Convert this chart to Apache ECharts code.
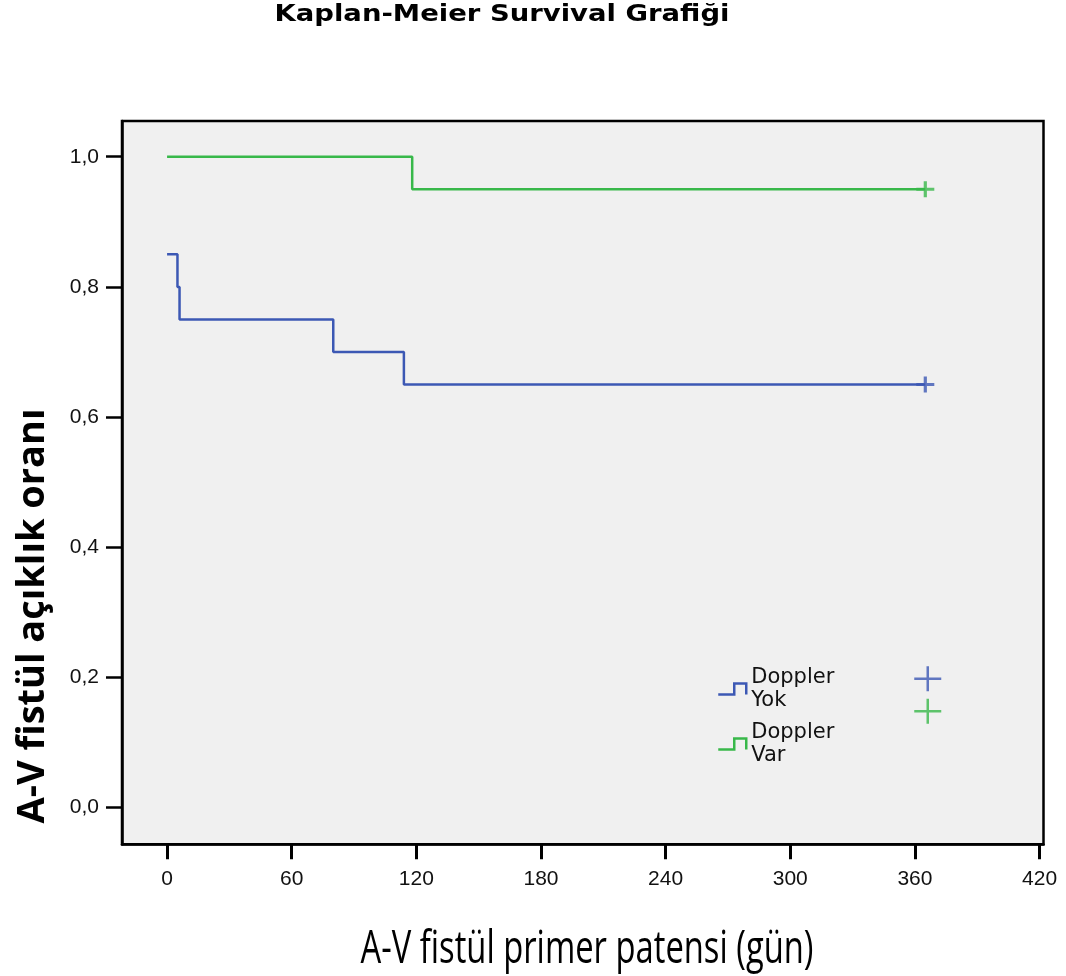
<!DOCTYPE html>
<html>
<head>
<meta charset="utf-8">
<script src="https://cdn.jsdelivr.net/npm/echarts@6/dist/echarts.min.js"></script>
<style>html,body{margin:0;padding:0;background:#fff}#c{width:1066px;height:976px}</style>
</head>
<body>
<div id="c"></div>
<script>
// ---- data ----
const titleText = 'Kaplan-Meier Survival Grafiği';
const xTitle = 'A-V fistül primer patensi (gün)';
const yTitle = 'A-V fistül açıklık oranı';
const groupNames = ['Doppler Yok', 'Doppler Var'];
const yokTimes = [0, 5, 6, 80, 114, 365];
const yokSurv  = [0.85, 0.80, 0.75, 0.70, 0.65, 0.65];
const varTimes = [0, 118, 365];
const varSurv  = [1.00, 0.95, 0.95];
const censorTimes = [365, 365];
const censorSurv  = [0.65, 0.95];
const xTicks = [0, 60, 120, 180, 240, 300, 360, 420];
const yTicks = [0, 0.2, 0.4, 0.6, 0.8, 1.0];

// ---- styles ----
const colors = ['#3c58b4', '#38b84a'];
function pairs(xs, ys) { return xs.map((x, i) => [x, ys[i]]); }
function fitScale(text, font, target) {
  const ctx = document.createElement('canvas').getContext('2d');
  ctx.font = font;
  return target / ctx.measureText(text).width;
}
const tFont = 'bold 23px "DejaVu Sans"';
const xtFont = '46px "Open Sans"';
const ytFont = 'bold 38px "Open Sans"';

const chart = echarts.init(document.getElementById('c'), null, {renderer: 'canvas'});
const stepIcon = 'path://M0,11 L16,11 L16,0 L28,0 L28,11';
const plusIcon = 'path://M0,12.5 L27,12.5 M13.5,0 L13.5,25';
const censorSymbol = 'path://M0,8 L18,8 M9,0 L9,16';

chart.setOption({
  animation: false,
  backgroundColor: '#ffffff',
  grid: {
    left: 122, top: 121, right: 22.5, bottom: 131.7,
    show: true, backgroundColor: '#f0f0f0', borderColor: '#000', borderWidth: 2.5,
    outerBoundsMode: 'none', containLabel: false
  },
  xAxis: {
    type: 'value', min: -21.7, max: 421.9, position: 'bottom',
    axisLine: {onZero: false, lineStyle: {color: '#000', width: 2.5}},
    axisTick: {show: true, length: 15, lineStyle: {color: '#000', width: 3}, customValues: xTicks},
    axisLabel: {customValues: xTicks, margin: 24, fontFamily: 'Liberation Sans', fontSize: 21, color: '#111'},
    splitLine: {show: false}
  },
  yAxis: {
    type: 'value', min: -0.0565, max: 1.0549, position: 'left',
    axisLine: {onZero: false, lineStyle: {color: '#000', width: 2.5}},
    axisTick: {show: true, length: 16, lineStyle: {color: '#000', width: 2.5}, customValues: yTicks},
    axisLabel: {customValues: yTicks, margin: 23, fontFamily: 'Liberation Sans', fontSize: 21, color: '#111',
      formatter: v => v.toFixed(1).replace('.', ',')},
    splitLine: {show: false}
  },
  legend: [{
    orient: 'vertical', left: 717, top: 666, padding: 0, itemGap: 9,
    itemWidth: 28, itemHeight: 11,
    textStyle: {fontFamily: 'DejaVu Sans', fontSize: 21, lineHeight: 23, color: '#111'},
    formatter: n => n.replace(' ', '\n'),
    selectedMode: false,
    data: groupNames.map((n, i) => ({
      name: n, icon: stepIcon,
      itemStyle: {color: 'rgba(0,0,0,0)', borderColor: colors[i], borderWidth: 2.5}
    }))
  }, {
    orient: 'vertical', left: 913, top: 665, padding: 0, itemGap: 5,
    itemWidth: 27, itemHeight: 25,
    textStyle: {fontSize: 1, lineHeight: 1, color: 'rgba(0,0,0,0)'},
    formatter: () => '',
    selectedMode: false,
    data: groupNames.map((n, i) => ({
      name: n + ' censored', icon: plusIcon,
      itemStyle: {color: 'rgba(0,0,0,0)', borderColor: colors[i], borderWidth: 2.5}
    }))
  }],
  series: [
    {name: groupNames[0], type: 'line', step: 'end', symbol: 'none', data: pairs(yokTimes, yokSurv),
      lineStyle: {color: colors[0], width: 2.5}, itemStyle: {color: colors[0]}, emphasis: {disabled: true}},
    {name: groupNames[1], type: 'line', step: 'end', symbol: 'none', data: pairs(varTimes, varSurv),
      lineStyle: {color: colors[1], width: 2.5}, itemStyle: {color: colors[1]}, emphasis: {disabled: true}},
    {name: groupNames[0] + ' censored', type: 'scatter', symbol: censorSymbol,
      symbolSize: [18, 16], symbolKeepAspect: false,
      data: [[censorTimes[0], censorSurv[0]]],
      itemStyle: {color: 'rgba(0,0,0,0)', borderColor: colors[0], borderWidth: 3}, emphasis: {disabled: true}},
    {name: groupNames[1] + ' censored', type: 'scatter', symbol: censorSymbol,
      symbolSize: [18, 16], symbolKeepAspect: false,
      data: [[censorTimes[1], censorSurv[1]]],
      itemStyle: {color: 'rgba(0,0,0,0)', borderColor: colors[1], borderWidth: 3}, emphasis: {disabled: true}}
  ],
  graphic: [
    {type: 'text', x: 502, y: 15, scaleX: fitScale(titleText, tFont, 455),
      style: {text: titleText, font: tFont, fill: '#000', align: 'center', verticalAlign: 'middle'}},
    {type: 'text', x: 587, y: 950, scaleX: fitScale(xTitle, xtFont, 453),
      style: {text: xTitle, font: xtFont, fill: '#000', align: 'center', verticalAlign: 'middle'}},
    {type: 'text', x: 33, y: 616, rotation: Math.PI / 2, scaleX: fitScale(yTitle, ytFont, 415),
      style: {text: yTitle, font: ytFont, fill: '#000', align: 'center', verticalAlign: 'middle'}}
  ]
});
</script>
</body>
</html>
